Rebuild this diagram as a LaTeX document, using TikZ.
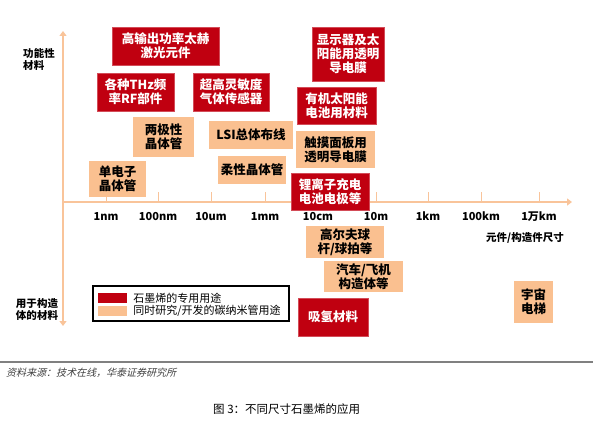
\documentclass[tikz,border=0pt]{standalone}
\usepackage{fontspec}
\usetikzlibrary{arrows.meta,positioning}
\newfontfamily\cjk{Noto Sans CJK SC}
\newfontfamily\cjkslant[FakeSlant=0.25]{Noto Sans CJK SC}
\definecolor{usered}{HTML}{C00010}
\definecolor{usepeach}{HTML}{FAC090}
\definecolor{axispeach}{HTML}{F9C49A}
\tikzset{
  redbox/.style={draw=usered!70!white, line width=0.6pt, fill=usered, text=white,
    align=center, font=\cjk\bfseries\fontsize{12.5}{14}\selectfont, inner sep=1pt},
  peachbox/.style={draw=none, fill=usepeach, text=black,
    align=center, font=\cjk\bfseries\fontsize{12.5}{14}\selectfont, inner sep=1pt},
  scalelabel/.style={font=\cjk\bfseries\fontsize{11}{12}\selectfont, inner sep=0pt},
  sidelabel/.style={font=\cjk\bfseries\fontsize{10.5}{12}\selectfont, align=left, inner sep=0pt},
  axisarrow/.style={draw=axispeach, line width=1.8pt, -{Triangle[length=5pt,width=7pt]}}
}

\begin{document}
\begin{tikzpicture}[x=1pt, y=-1pt]
    \useasboundingbox (0,0) rectangle (596,428);
    % axes
    \coordinate (origin) at (63,202);
    \coordinate (ytop) at (63,31);
    \coordinate (ybot) at (63,326);
    \coordinate (xend) at (572,202);
    \draw[axisarrow] (origin) -- (ytop);
    \draw[axisarrow] (origin) -- (ybot);
    \draw[axisarrow] (origin) -- (xend);
    \foreach \tx/\lbl [count=\i] in {106/1nm, 158/100nm, 211/10um, 265/1mm, 318/10cm,
        376/10m, 428/1km, 481/100km, 539/1万km} {
      \coordinate (tick\i) at (\tx,202);
      \draw[draw=axispeach, line width=1pt] (tick\i) -- ++(0,-10);
      \node[scalelabel, below=10pt of tick\i] (scale\i) {\lbl};
    }
    \node[sidelabel] (funclbl) at (39,59) {功能性\\材料};
    \node[sidelabel] (strulbl) at (37,310) {用于构造\\体的材料};
    \node[scalelabel, font=\cjk\bfseries\fontsize{10.5}{12}\selectfont] (sizelbl) at (525,238) {元件/构造件尺寸};

    % graphene only
    \node[redbox, minimum width=107pt, minimum height=38pt] (laser) at (165.5,46) {高输出功率太赫\\激光元件};
    \node[redbox, minimum width=77pt, minimum height=38pt] (thz) at (135.5,92) {各种THz频\\率RF部件};
    \node[redbox, minimum width=76pt, minimum height=38pt] (gas) at (231,92) {超高灵敏度\\气体传感器};
    \node[redbox, minimum width=72pt, minimum height=54pt] (display) at (348,54) {显示器及太\\阳能用透明\\导电膜};
    \node[redbox, minimum width=79pt, minimum height=37pt] (solar) at (336.5,105.5) {有机太阳能\\电池用材料};
    \node[redbox, minimum width=78pt, minimum height=37pt] (battery) at (330,191.5) {锂离子充电\\电池电极等};
    \node[redbox, minimum width=70pt, minimum height=38pt] (hydrogen) at (333,317) {吸氢材料};

    % shared with carbon nanotubes
    \node[peachbox, minimum width=61pt, minimum height=40pt] (bipolar) at (163.5,137) {两极性\\晶体管};
    \node[peachbox, minimum width=84pt, minimum height=28pt] (lsi) at (251,135) {LSI总体布线};
    \node[peachbox, minimum width=57pt, minimum height=36pt] (single) at (117.5,179) {单电子\\晶体管};
    \node[peachbox, minimum width=68pt, minimum height=28pt] (flex) at (252,170) {柔性晶体管};
    \node[peachbox, minimum width=79pt, minimum height=37pt] (touch) at (335.5,149.5) {触摸面板用\\透明导电膜};
    \node[peachbox, minimum width=78pt, minimum height=32pt] (golf) at (345,242) {高尔夫球\\杆/球拍等};
    \node[peachbox, minimum width=79pt, minimum height=31pt] (car) at (363.5,276.5) {汽车/飞机\\构造体等};
    \node[peachbox, minimum width=39pt, minimum height=42pt] (elevator) at (533.5,302) {宇宙\\电梯};

    % legend
    \node[draw=black, line width=1.2pt, minimum width=196pt, minimum height=35pt] (legend) at (191,303.5) {};
    \node[fill=usered, minimum width=29pt, minimum height=10pt, inner sep=0pt] (redkey) at (112.5,298) {};
    \node[fill=usepeach, minimum width=29pt, minimum height=10pt, inner sep=0pt] (peachkey) at (112.5,311) {};
    \node[scalelabel, font=\cjk\fontsize{11}{12}\selectfont, anchor=west, right=6pt of redkey] (redtxt) {石墨烯的专用用途};
    \node[scalelabel, font=\cjk\fontsize{11}{12}\selectfont, anchor=west, right=6pt of peachkey] (peachtxt) {同时研究/开发的碳纳米管用途};

    % source and caption
    \coordinate (ruleL) at (0,362);
    \coordinate (ruleR) at (593,362);
    \draw[gray, line width=1.5pt] (ruleL) -- (ruleR);
    \node[anchor=west, font=\cjkslant\fontsize{10}{12}\selectfont, text=black!75, inner sep=0pt] (source) at (6,373) {资料来源：技术在线，华泰证券研究所};
    \node[anchor=west, font=\cjk\fontsize{11.5}{13}\selectfont, inner sep=0pt] (caption) at (213,409) {图 3：不同尺寸石墨烯的应用};
\end{tikzpicture}
\end{document}
